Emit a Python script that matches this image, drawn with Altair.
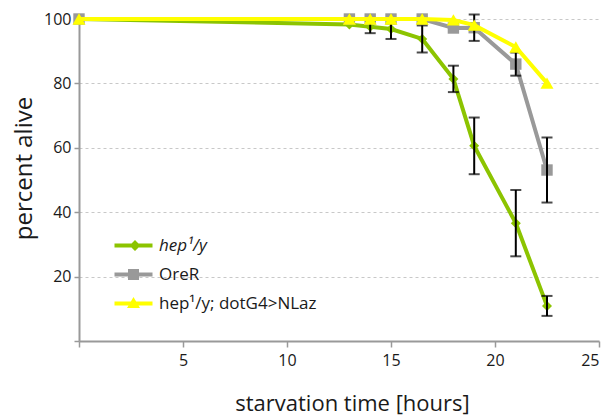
import altair as alt
import pandas as pd

# ---- data ----
time = [0, 13, 14, 15, 16.5, 18, 19, 21, 22.5]
hep = [100, 98.3, 97.6, 96.9, 93.8, 81.4, 60.6, 36.6, 10.9]
hep_err = [0, 0, 2.0, 3.1, 4.2, 4.1, 8.8, 10.3, 3.1]
ore = [100, 100, 100, 100, 100, 97.2, 97.3, 86.0, 53.1]
ore_err = [0, 0, 0, 0, 0, 0, 4.1, 3.6, 10.1]
rescue = [100, 100, 100, 100, 100, 99.7, 98.1, 91.3, 80.1]
rescue_err = [0, 0, 0, 0, 0, 0, 0, 0, 0]

series_names = ["hep¹/y", "OreR", "hep¹/y; dotG4>NLaz"]
colors = ["#8cc400", "#999999", "#ffff00"]
shapes = ["diamond", "square", "triangle-up"]
marker_sizes = [100, 130, 170]

rows = []
for name, shp, msz, vals, errs in zip(series_names, shapes, marker_sizes,
                                      [hep, ore, rescue], [hep_err, ore_err, rescue_err]):
    for t, v, e in zip(time, vals, errs):
        rows.append({"series": name, "shape": shp, "msize": msz, "time": t, "value": v,
                     "err": e, "lo": v - e, "hi": v + e})
df = pd.DataFrame(rows)

color_scale = alt.Scale(domain=series_names, range=colors)

x_enc = alt.X("time:Q", scale=alt.Scale(domain=[0, 25], nice=False),
              axis=alt.Axis(values=[0, 5, 10, 15, 20, 25],
                            labelExpr="datum.value == 0 ? '' : datum.label",
                            title="starvation time [hours]", grid=False,
                            tickSize=6, titleFontSize=22, titleFontWeight="normal",
                            labelFontSize=16, labelPadding=5,
                            titleX=273, titleY=62, titleBaseline="middle",
                            titleAnchor="middle"))
y_enc = alt.Y("value:Q", scale=alt.Scale(domain=[0, 100], nice=False),
              axis=alt.Axis(values=list(range(0, 101, 10)),
                            labelExpr="(datum.value % 20 == 0 && datum.value > 0) ? datum.label : ''",
                            title="percent alive", grid=True, gridDash=[3, 3],
                            gridColor="#c8c8c8", gridWidth=1,
                            tickSize=5, titleFontSize=24, titleFontWeight="normal",
                            labelFontSize=16, labelPadding=3,
                            titleX=-55, titleY=149, titleBaseline="middle",
                            titleAnchor="middle"))

line_path = "M-3.8,-0.4L3.8,-0.4L3.8,0.4L-3.8,0.4Z"
sym_d = line_path + " M0.3,-1.1L1.4,0L0.3,1.1L-0.8,0Z"
sym_s = line_path + " M-1.1,-1.1L1.1,-1.1L1.1,1.1L-1.1,1.1Z"
sym_t = line_path + " M0,-1.3L1.3,0.9L-1.3,0.9Z"
sym_expr = ("datum.value == 'OreR' ? '%s' : (datum.value == 'hep¹/y' ? '%s' : '%s')"
            % (sym_s, sym_d, sym_t))

legend = alt.Legend(title=None, orient="none", legendX=46, legendY=218,
                    symbolType=alt.ExprRef(sym_expr), symbolSize=100,
                    labelFontSize=17, labelOffset=17, rowPadding=11,
                    labelFontStyle=alt.ExprRef("datum.value == 'hep¹/y' ? 'italic' : 'normal'"),
                    padding=0, symbolStrokeWidth=0)

# legend-only layer (no rows survive the filter; entries come from the scale domain)
legend_layer = alt.Chart(df).transform_filter(alt.datum.time < 0).mark_point(
    filled=True, opacity=1).encode(
    x=x_enc, y=y_enc,
    color=alt.Color("series:N", scale=color_scale, legend=legend))


def series_layers(name):
    base = alt.Chart(df).transform_filter(alt.datum.series == name)
    ln = base.mark_line(strokeWidth=4).encode(
        x=x_enc, y=y_enc,
        color=alt.Color("series:N", scale=color_scale))
    pt = base.mark_point(filled=True, opacity=1).encode(
        x=x_enc, y=y_enc,
        color=alt.Color("series:N", scale=color_scale),
        shape=alt.Shape("shape:N", scale=None),
        size=alt.Size("msize:Q", scale=None))
    return [ln, pt]


err_df = df[df["err"] > 0]
err_base = alt.Chart(err_df)
err_rule = err_base.mark_rule(color="black", strokeWidth=2).encode(
    x="time:Q", y="lo:Q", y2="hi:Q")
err_lo = err_base.mark_tick(color="black", orient="horizontal", size=11, thickness=2).encode(
    x="time:Q", y="lo:Q")
err_hi = err_base.mark_tick(color="black", orient="horizontal", size=11, thickness=2).encode(
    x="time:Q", y="hi:Q")

layers = ([legend_layer] + series_layers(series_names[0]) + series_layers(series_names[1])
          + [err_rule, err_lo, err_hi] + series_layers(series_names[2]))

chart = alt.layer(*layers).properties(
    width=520, height=322,
    autosize=alt.AutoSizeParams(type="none"),
    padding={"left": 79, "top": 19, "right": 14, "bottom": 78},
).configure_view(stroke=None).configure_axis(
    domainColor="#999999", domainWidth=2, tickColor="#999999", tickWidth=1.5,
    labelColor="#1a1a1a", titleColor="#1a1a1a",
    labelFont="Open Sans", titleFont="Open Sans",
).configure_legend(labelFont="Open Sans", labelColor="#1a1a1a")

chart.save("out.html", embed_options={"renderer": "svg", "actions": False})
